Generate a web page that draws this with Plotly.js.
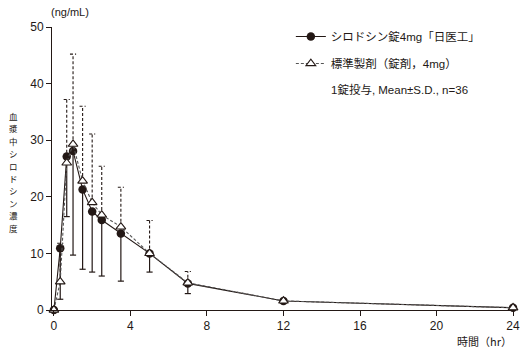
<!DOCTYPE html>
<html>
<head>
<meta charset="utf-8">
<script src="https://cdn.plot.ly/plotly-3.0.1.min.js"></script>
<style>html,body{margin:0;padding:0;background:#fff;}#chart{width:530px;height:351px;}</style>
</head>
<body>
<div id="chart"></div>
<script>
// ---- data ----
const times = [0, 0.33, 0.67, 1, 1.5, 2, 2.5, 3.5, 5, 7, 12, 24];
const testName = 'シロドシン錠4mg「日医工」';
const testMean = [0, 10.9, 27.1, 28.1, 21.3, 17.4, 15.9, 13.5, 10.0, 4.7, 1.6, 0.4];
const testSD   = [0, 9.0, 10.6, 18.4, 14.1, 10.7, 9.9, 8.4, 3.3, 1.8, 0.3, 0.1];
const refName  = '標準製剤（錠剤，4mg）';
const refMean  = [0, 5.0, 26.0, 29.3, 22.8, 19.0, 16.8, 14.7, 10.0, 4.8, 1.6, 0.4];
const refSD    = [0, 6.8, 11.2, 15.9, 13.2, 12.1, 8.6, 7.0, 5.8, 2.0, 0.3, 0.1];
const xTicks = [0, 4, 8, 12, 16, 20, 24];
const yTicks = [0, 10, 20, 30, 40, 50];
const yTitle = '血漿中シロドシン濃度';
const yUnit = '(ng/mL)';
const xTitle = '時間（hr）';
const note = '1錠投与, Mean±S.D., n=36';

const ink = '#231815';
const capHalf = 0.16;

function errorSegments(x, y, sd, dir) {
  const xs = [], ys = [];
  for (let i = 0; i < x.length; i++) {
    if (!sd[i]) continue;
    const end = y[i] + dir * sd[i];
    xs.push(x[i], x[i], null, x[i] - capHalf, x[i] + capHalf, null);
    ys.push(y[i], end, null, end, end, null);
  }
  return {xs, ys};
}

const testErr = errorSegments(times, testMean, testSD, -1);
const refErr = errorSegments(times, refMean, refSD, +1);

const traces = [
  {x: testErr.xs, y: testErr.ys, mode: 'lines', line: {color: ink, width: 1.2},
   showlegend: false, hoverinfo: 'skip', cliponaxis: false},
  {x: refErr.xs, y: refErr.ys, mode: 'lines', line: {color: ink, width: 1.1, dash: '3px,2px'},
   showlegend: false, hoverinfo: 'skip', cliponaxis: false},
  {x: times, y: testMean, name: testName, legendgroup: 'a', mode: 'lines+markers',
   line: {color: ink, width: 1.1},
   marker: {symbol: 'circle', size: 8.5, color: ink}, cliponaxis: false},
  {x: times, y: refMean, name: refName, legendgroup: 'b', mode: 'lines+markers',
   line: {color: '#555', width: 1.1, dash: '3px,2px'},
   marker: {symbol: 'triangle-up', size: 8.5, color: '#fff', line: {color: ink, width: 1.1}},
   cliponaxis: false}
];

const annotations = [
  {text: yUnit, xref: 'paper', yref: 'paper', x: (70 - 52) / 462, y: 1 + (27 - 12) / 283,
   xanchor: 'center', yanchor: 'middle', showarrow: false,
   font: {size: 11, color: ink, family: 'Liberation Sans, Noto Sans CJK JP'}},
  {text: xTitle, xref: 'paper', yref: 'paper', x: 1, y: -(341 - 310) / 283,
   xanchor: 'right', yanchor: 'middle', showarrow: false,
   font: {size: 11, color: ink, family: 'Noto Sans CJK JP'}},
  {text: note, xref: 'paper', yref: 'paper', x: (329 - 52) / 462, y: (310 - 89) / 283,
   xanchor: 'left', yanchor: 'middle', showarrow: false,
   font: {size: 11.5, color: ink, family: 'Liberation Sans, Noto Sans CJK JP'}}
];
Array.from(yTitle).forEach((ch, i) => {
  annotations.push({text: ch, xref: 'paper', yref: 'paper',
    x: (13 - 52) / 462, y: (310 - (116 + i * 12.4)) / 283,
    xanchor: 'center', yanchor: 'middle', showarrow: false,
    font: {size: 8.5, color: ink, family: 'Noto Sans CJK JP'}});
});

const layout = {
  width: 530, height: 351,
  margin: {l: 52, r: 16, t: 27, b: 41, pad: 0},
  paper_bgcolor: '#fff', plot_bgcolor: '#fff',
  font: {family: 'Liberation Sans, Noto Sans CJK JP', color: ink, size: 11},
  showlegend: true,
  legend: {x: 0.517, y: (310 - 22) / 283, xanchor: 'left', yanchor: 'top',
    bgcolor: 'rgba(0,0,0,0)', borderwidth: 0, tracegroupgap: 8, itemwidth: 30,
    traceorder: 'grouped',
    font: {size: 11.5, color: ink, family: 'Liberation Sans, Noto Sans CJK JP'}},
  xaxis: {range: [-0.1, 24.05], tickvals: xTicks, ticktext: xTicks.map(String),
    showline: true, linecolor: ink, linewidth: 1, ticks: 'outside', ticklen: 5, tickcolor: ink,
    showgrid: false, zeroline: false, tickfont: {size: 12, color: ink}},
  yaxis: {range: [0, 50], tickvals: yTicks, ticktext: yTicks.map(String),
    showline: true, linecolor: ink, linewidth: 1, ticks: 'outside', ticklen: 5, tickcolor: ink,
    showgrid: false, zeroline: false, tickfont: {size: 12, color: ink}},
  annotations: annotations
};

Plotly.newPlot('chart', traces, layout, {displayModeBar: false, staticPlot: true});
</script>
</body>
</html>
